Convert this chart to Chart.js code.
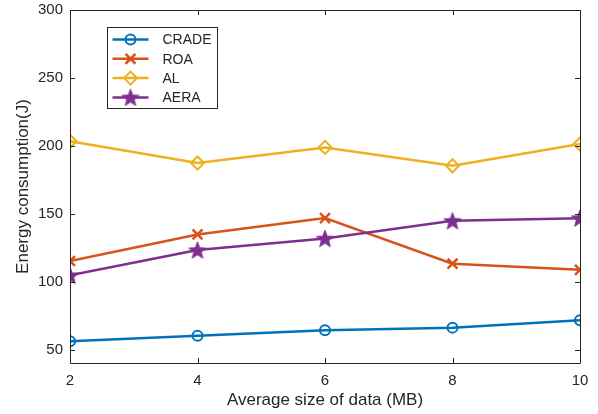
<!DOCTYPE html>
<html>
<head>
<meta charset="utf-8">
<script src="https://cdn.jsdelivr.net/npm/chart.js@4.4.0/dist/chart.umd.min.js"></script>
<style>
  html, body { margin: 0; padding: 0; background: #fff; }
  #wrap { width: 598px; height: 414px; }
</style>
</head>
<body>
<div id="wrap"><canvas id="chart" width="598" height="414"></canvas></div>
<script>
// data
const dataSizes = [2, 4, 6, 8, 10];
const crade = [56.5, 60.5, 64.5, 66.5, 72];
const roa = [115.5, 135, 147, 113.5, 109];
const al = [203.5, 187.5, 199, 185.5, 201.5];
const aera = [105, 123.5, 132, 145, 147];
const yTicks = [50, 100, 150, 200, 250, 300];
const seriesNames = ['CRADE', 'ROA', 'AL', 'AERA'];

const textColor = '#262626';
const fontFamily = '"Liberation Sans", Arial, Helvetica, sans-serif';
const colors = ['#0072BD', '#D95319', '#EDB120', '#7E2F8E'];

// filled pentagram marker
function makeStar(color) {
    const c = document.createElement('canvas');
    c.width = 20; c.height = 20;
    const g = c.getContext('2d');
    g.beginPath();
    for (let i = 0; i < 10; i++) {
        const r = i % 2 === 0 ? 9 : 3.8;
        const a = -Math.PI / 2 + i * Math.PI / 5;
        const px = 10 + r * Math.cos(a), py = 10.8 + r * Math.sin(a);
        i === 0 ? g.moveTo(px, py) : g.lineTo(px, py);
    }
    g.closePath();
    g.fillStyle = color;
    g.fill();
    g.strokeStyle = color;
    g.lineWidth = 1;
    g.stroke();
    return c;
}
const starMarker = makeStar(colors[3]);

const markers = ['circle', 'crossRot', 'rectRot', starMarker];
const radii = [5, 7, 6.5, 7];
const values = [crade, roa, al, aera];

const datasets = seriesNames.map((name, i) => ({
    label: name,
    data: dataSizes.map((x, j) => ({ x: x, y: values[i][j] })),
    borderColor: colors[i],
    backgroundColor: 'rgba(0,0,0,0)',
    borderWidth: 2.5,
    pointStyle: markers[i],
    pointRadius: radii[i],
    pointBorderWidth: i === 1 ? 2.5 : 2,
    pointBorderColor: colors[i],
    pointBackgroundColor: 'rgba(0,0,0,0)',
    tension: 0,
    order: seriesNames.length - i
}));

// box around the axes and inward pointing ticks, MATLAB style
const boxTicks = {
    id: 'boxTicks',
    afterDatasetsDraw(chart) {
        const { ctx, chartArea: a, scales } = chart;
        const len = 5;
        ctx.save();
        ctx.strokeStyle = textColor;
        ctx.lineWidth = 1;
        ctx.beginPath();
        ctx.rect(Math.round(a.left) + 0.5, Math.round(a.top) + 0.5,
                 Math.round(a.right - a.left), Math.round(a.bottom - a.top));
        scales.x.ticks.forEach(t => {
            const px = Math.round(scales.x.getPixelForValue(t.value)) + 0.5;
            ctx.moveTo(px, a.bottom); ctx.lineTo(px, a.bottom - len);
            ctx.moveTo(px, a.top); ctx.lineTo(px, a.top + len);
        });
        scales.y.ticks.forEach(t => {
            const py = Math.round(scales.y.getPixelForValue(t.value)) + 0.5;
            ctx.moveTo(a.left, py); ctx.lineTo(a.left + len, py);
            ctx.moveTo(a.right, py); ctx.lineTo(a.right - len, py);
        });
        ctx.stroke();
        ctx.restore();
    }
};

// legend box inside the plot, top left
const insideLegend = {
    id: 'insideLegend',
    afterDraw(chart) {
        const { ctx, chartArea: a } = chart;
        const x0 = Math.round(a.left + 37) + 0.5;
        const y0 = Math.round(a.top + 17) + 0.5;
        const w = 110, h = 81;
        ctx.save();
        ctx.fillStyle = '#fff';
        ctx.fillRect(x0, y0, w, h);
        ctx.strokeStyle = textColor;
        ctx.lineWidth = 1;
        ctx.strokeRect(x0, y0, w, h);
        ctx.textBaseline = 'middle';
        ctx.textAlign = 'left';
        seriesNames.forEach((name, i) => {
            const ry = y0 + 12 + i * 19.3;
            ctx.strokeStyle = colors[i];
            ctx.lineWidth = 2.5;
            ctx.beginPath();
            ctx.moveTo(x0 + 5, ry); ctx.lineTo(x0 + 41, ry);
            ctx.stroke();
            const ds = chart.data.datasets[i];
            ctx.fillStyle = 'rgba(0,0,0,0)';
            ctx.lineWidth = ds.pointBorderWidth;
            Chart.helpers.drawPoint(ctx, {
                pointStyle: ds.pointStyle,
                rotation: 0,
                radius: ds.pointRadius,
                borderWidth: ds.pointBorderWidth
            }, x0 + 23, ry);
            ctx.fillStyle = textColor;
            ctx.font = '14px ' + fontFamily;
            ctx.fillText(name, x0 + 55, ry + 1);
        });
        ctx.restore();
    }
};

new Chart(document.getElementById('chart'), {
    type: 'line',
    data: { datasets: datasets },
    options: {
        responsive: false,
        animation: false,
        layout: { padding: { top: 10, right: 18, left: 0, bottom: 0 } },
        plugins: {
            legend: { display: false },
            tooltip: { enabled: false }
        },
        scales: {
            x: {
                type: 'linear',
                min: 2,
                max: 10,
                afterBuildTicks: scale => { scale.ticks = dataSizes.map(v => ({ value: v })); },
                afterFit: scale => {
                    scale.height = 51;
                    scale.paddingLeft = 0; scale.paddingRight = 0;
                },
                grid: { display: false, drawTicks: false },
                border: { display: false },
                ticks: { color: textColor, padding: 9, font: { family: fontFamily, size: 15 } },
                title: {
                    display: true,
                    text: 'Average size of data (MB)',
                    color: textColor,
                    padding: { top: 0, bottom: 3 },
                    font: { family: fontFamily, size: 17 }
                }
            },
            y: {
                min: 40.5,
                max: 300,
                afterBuildTicks: scale => { scale.ticks = yTicks.map(v => ({ value: v })); },
                afterFit: scale => {
                    scale.width = 70;
                    scale.paddingTop = 0; scale.paddingBottom = 0;
                },
                grid: { display: false, drawTicks: false },
                border: { display: false },
                ticks: { color: textColor, padding: 7, font: { family: fontFamily, size: 15 } },
                title: {
                    display: true,
                    text: 'Energy consumption(J)',
                    color: textColor,
                    padding: { top: 13, bottom: 0 },
                    font: { family: fontFamily, size: 17 }
                }
            }
        }
    },
    plugins: [boxTicks, insideLegend]
});
</script>
</body>
</html>
